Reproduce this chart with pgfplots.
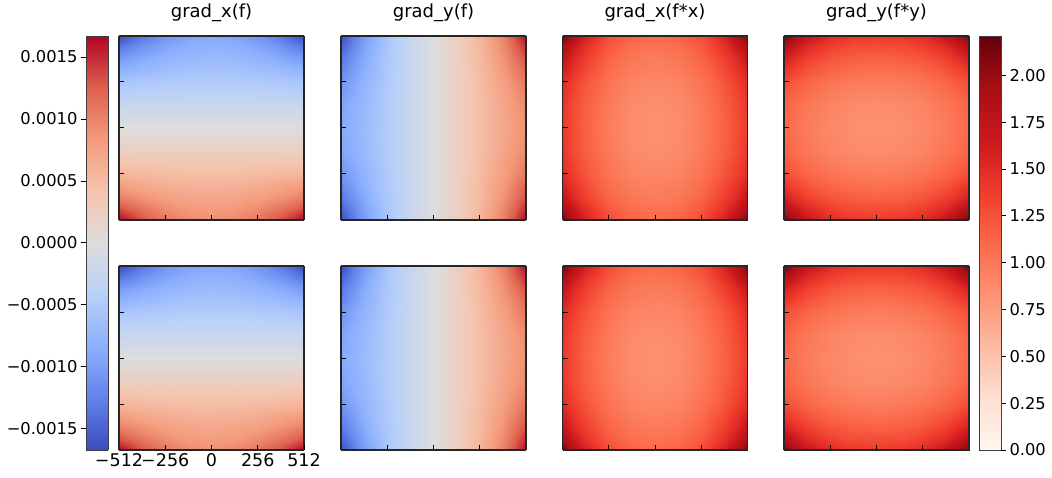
\documentclass[border=0pt]{standalone}
\usepackage{fontspec}
\setmainfont{DejaVu Sans}
\usepackage{pgfplots}
\usepackage{pgfplotstable}
\pgfplotsset{compat=1.18}
\pgfplotsset{
 colormap={coolwarm}{rgb255(0)=(59,76,192) rgb255(1)=(98,130,234) rgb255(2)=(141,176,254) rgb255(3)=(184,208,249) rgb255(4)=(221,221,221) rgb255(5)=(245,196,173) rgb255(6)=(244,154,123) rgb255(7)=(222,96,77) rgb255(8)=(180,4,38)},
 colormap={reds}{rgb255(0)=(255,245,240) rgb255(1)=(254,224,210) rgb255(2)=(252,187,161) rgb255(3)=(252,146,114) rgb255(4)=(251,106,74) rgb255(5)=(239,59,44) rgb255(6)=(203,24,29) rgb255(7)=(165,15,21) rgb255(8)=(103,0,13)},
}
% grad_x(f)
\pgfplotstableread{
x y z
-512 512 -0.00167
-448 512 -0.00149
-384 512 -0.00133
-256 512 -0.00109
-128 512 -0.00095
0 512 -0.00090
128 512 -0.00095
256 512 -0.00109
384 512 -0.00133
448 512 -0.00149
512 512 -0.00167
-512 448 -0.00132
-448 448 -0.00120
-384 448 -0.00109
-256 448 -0.00093
-128 448 -0.00083
0 448 -0.00080
128 448 -0.00083
256 448 -0.00093
384 448 -0.00109
448 448 -0.00120
512 448 -0.00132
-512 384 -0.00102
-448 384 -0.00095
-384 384 -0.00088
-256 384 -0.00078
-128 384 -0.00072
0 384 -0.00070
128 384 -0.00072
256 384 -0.00078
384 384 -0.00088
448 384 -0.00095
512 384 -0.00102
-512 256 -0.00057
-448 256 -0.00055
-384 256 -0.00053
-256 256 -0.00050
-128 256 -0.00048
0 256 -0.00048
128 256 -0.00048
256 256 -0.00050
384 256 -0.00053
448 256 -0.00055
512 256 -0.00057
-512 128 -0.00025
-448 128 -0.00024
-384 128 -0.00024
-256 128 -0.00024
-128 128 -0.00024
0 128 -0.00024
128 128 -0.00024
256 128 -0.00024
384 128 -0.00024
448 128 -0.00024
512 128 -0.00025
-512 0 0
-448 0 0
-384 0 0
-256 0 0
-128 0 0
0 0 0
128 0 0
256 0 0
384 0 0
448 0 0
512 0 0
-512 -128 0.00025
-448 -128 0.00024
-384 -128 0.00024
-256 -128 0.00024
-128 -128 0.00024
0 -128 0.00024
128 -128 0.00024
256 -128 0.00024
384 -128 0.00024
448 -128 0.00024
512 -128 0.00025
-512 -256 0.00057
-448 -256 0.00055
-384 -256 0.00053
-256 -256 0.00050
-128 -256 0.00048
0 -256 0.00048
128 -256 0.00048
256 -256 0.00050
384 -256 0.00053
448 -256 0.00055
512 -256 0.00057
-512 -384 0.00102
-448 -384 0.00095
-384 -384 0.00088
-256 -384 0.00078
-128 -384 0.00072
0 -384 0.00070
128 -384 0.00072
256 -384 0.00078
384 -384 0.00088
448 -384 0.00095
512 -384 0.00102
-512 -448 0.00132
-448 -448 0.00120
-384 -448 0.00109
-256 -448 0.00093
-128 -448 0.00083
0 -448 0.00080
128 -448 0.00083
256 -448 0.00093
384 -448 0.00109
448 -448 0.00120
512 -448 0.00132
-512 -512 0.00167
-448 -512 0.00149
-384 -512 0.00133
-256 -512 0.00109
-128 -512 0.00095
0 -512 0.00090
128 -512 0.00095
256 -512 0.00109
384 -512 0.00133
448 -512 0.00149
512 -512 0.00167
}\GX
% grad_y(f)
\pgfplotstableread{
x y z
-512 512 -0.00167
-448 512 -0.00132
-384 512 -0.00102
-256 512 -0.00057
-128 512 -0.00025
0 512 0
128 512 0.00025
256 512 0.00057
384 512 0.00102
448 512 0.00132
512 512 0.00167
-512 448 -0.00149
-448 448 -0.00120
-384 448 -0.00095
-256 448 -0.00055
-128 448 -0.00024
0 448 0
128 448 0.00024
256 448 0.00055
384 448 0.00095
448 448 0.00120
512 448 0.00149
-512 384 -0.00133
-448 384 -0.00109
-384 384 -0.00088
-256 384 -0.00053
-128 384 -0.00024
0 384 0
128 384 0.00024
256 384 0.00053
384 384 0.00088
448 384 0.00109
512 384 0.00133
-512 256 -0.00109
-448 256 -0.00093
-384 256 -0.00078
-256 256 -0.00050
-128 256 -0.00024
0 256 0
128 256 0.00024
256 256 0.00050
384 256 0.00078
448 256 0.00093
512 256 0.00109
-512 128 -0.00095
-448 128 -0.00083
-384 128 -0.00072
-256 128 -0.00048
-128 128 -0.00024
0 128 0
128 128 0.00024
256 128 0.00048
384 128 0.00072
448 128 0.00083
512 128 0.00095
-512 0 -0.00090
-448 0 -0.00080
-384 0 -0.00070
-256 0 -0.00048
-128 0 -0.00024
0 0 0
128 0 0.00024
256 0 0.00048
384 0 0.00070
448 0 0.00080
512 0 0.00090
-512 -128 -0.00095
-448 -128 -0.00083
-384 -128 -0.00072
-256 -128 -0.00048
-128 -128 -0.00024
0 -128 0
128 -128 0.00024
256 -128 0.00048
384 -128 0.00072
448 -128 0.00083
512 -128 0.00095
-512 -256 -0.00109
-448 -256 -0.00093
-384 -256 -0.00078
-256 -256 -0.00050
-128 -256 -0.00024
0 -256 0
128 -256 0.00024
256 -256 0.00050
384 -256 0.00078
448 -256 0.00093
512 -256 0.00109
-512 -384 -0.00133
-448 -384 -0.00109
-384 -384 -0.00088
-256 -384 -0.00053
-128 -384 -0.00024
0 -384 0
128 -384 0.00024
256 -384 0.00053
384 -384 0.00088
448 -384 0.00109
512 -384 0.00133
-512 -448 -0.00149
-448 -448 -0.00120
-384 -448 -0.00095
-256 -448 -0.00055
-128 -448 -0.00024
0 -448 0
128 -448 0.00024
256 -448 0.00055
384 -448 0.00095
448 -448 0.00120
512 -448 0.00149
-512 -512 -0.00167
-448 -512 -0.00132
-384 -512 -0.00102
-256 -512 -0.00057
-128 -512 -0.00025
0 -512 0
128 -512 0.00025
256 -512 0.00057
384 -512 0.00102
448 -512 0.00132
512 -512 0.00167
}\GY
% grad_x(f*x)
\pgfplotstableread{
x y z
-512 512 2.15
-448 512 1.82
-384 512 1.57
-256 512 1.27
-128 512 1.14
0 512 1.10
128 512 1.14
256 512 1.27
384 512 1.57
448 512 1.82
512 512 2.15
-512 448 1.89
-448 448 1.64
-384 448 1.45
-256 448 1.20
-128 448 1.07
0 448 1.04
128 448 1.07
256 448 1.20
384 448 1.45
448 448 1.64
512 448 1.89
-512 384 1.70
-448 384 1.51
-384 384 1.35
-256 384 1.13
-128 384 1.02
0 384 0.98
128 384 1.02
256 384 1.13
384 384 1.35
448 384 1.51
512 384 1.70
-512 256 1.50
-448 256 1.35
-384 256 1.23
-256 256 1.04
-128 256 0.93
0 256 0.90
128 256 0.93
256 256 1.04
384 256 1.23
448 256 1.35
512 256 1.50
-512 128 1.42
-448 128 1.28
-384 128 1.17
-256 128 0.99
-128 128 0.88
0 128 0.85
128 128 0.88
256 128 0.99
384 128 1.17
448 128 1.28
512 128 1.42
-512 0 1.40
-448 0 1.27
-384 0 1.15
-256 0 0.97
-128 0 0.87
0 0 0.83
128 0 0.87
256 0 0.97
384 0 1.15
448 0 1.27
512 0 1.40
-512 -128 1.42
-448 -128 1.28
-384 -128 1.17
-256 -128 0.99
-128 -128 0.88
0 -128 0.85
128 -128 0.88
256 -128 0.99
384 -128 1.17
448 -128 1.28
512 -128 1.42
-512 -256 1.50
-448 -256 1.35
-384 -256 1.23
-256 -256 1.04
-128 -256 0.93
0 -256 0.90
128 -256 0.93
256 -256 1.04
384 -256 1.23
448 -256 1.35
512 -256 1.50
-512 -384 1.70
-448 -384 1.51
-384 -384 1.35
-256 -384 1.13
-128 -384 1.02
0 -384 0.98
128 -384 1.02
256 -384 1.13
384 -384 1.35
448 -384 1.51
512 -384 1.70
-512 -448 1.89
-448 -448 1.64
-384 -448 1.45
-256 -448 1.20
-128 -448 1.07
0 -448 1.04
128 -448 1.07
256 -448 1.20
384 -448 1.45
448 -448 1.64
512 -448 1.89
-512 -512 2.15
-448 -512 1.82
-384 -512 1.57
-256 -512 1.27
-128 -512 1.14
0 -512 1.10
128 -512 1.14
256 -512 1.27
384 -512 1.57
448 -512 1.82
512 -512 2.15
}\FX
% grad_y(f*y)
\pgfplotstableread{
x y z
-512 512 2.15
-448 512 1.89
-384 512 1.70
-256 512 1.50
-128 512 1.42
0 512 1.40
128 512 1.42
256 512 1.50
384 512 1.70
448 512 1.89
512 512 2.15
-512 448 1.82
-448 448 1.64
-384 448 1.51
-256 448 1.35
-128 448 1.28
0 448 1.27
128 448 1.28
256 448 1.35
384 448 1.51
448 448 1.64
512 448 1.82
-512 384 1.57
-448 384 1.45
-384 384 1.35
-256 384 1.23
-128 384 1.17
0 384 1.15
128 384 1.17
256 384 1.23
384 384 1.35
448 384 1.45
512 384 1.57
-512 256 1.27
-448 256 1.20
-384 256 1.13
-256 256 1.04
-128 256 0.99
0 256 0.97
128 256 0.99
256 256 1.04
384 256 1.13
448 256 1.20
512 256 1.27
-512 128 1.14
-448 128 1.07
-384 128 1.02
-256 128 0.93
-128 128 0.88
0 128 0.87
128 128 0.88
256 128 0.93
384 128 1.02
448 128 1.07
512 128 1.14
-512 0 1.10
-448 0 1.04
-384 0 0.98
-256 0 0.90
-128 0 0.85
0 0 0.83
128 0 0.85
256 0 0.90
384 0 0.98
448 0 1.04
512 0 1.10
-512 -128 1.14
-448 -128 1.07
-384 -128 1.02
-256 -128 0.93
-128 -128 0.88
0 -128 0.87
128 -128 0.88
256 -128 0.93
384 -128 1.02
448 -128 1.07
512 -128 1.14
-512 -256 1.27
-448 -256 1.20
-384 -256 1.13
-256 -256 1.04
-128 -256 0.99
0 -256 0.97
128 -256 0.99
256 -256 1.04
384 -256 1.13
448 -256 1.20
512 -256 1.27
-512 -384 1.57
-448 -384 1.45
-384 -384 1.35
-256 -384 1.23
-128 -384 1.17
0 -384 1.15
128 -384 1.17
256 -384 1.23
384 -384 1.35
448 -384 1.45
512 -384 1.57
-512 -448 1.82
-448 -448 1.64
-384 -448 1.51
-256 -448 1.35
-128 -448 1.28
0 -448 1.27
128 -448 1.28
256 -448 1.35
384 -448 1.51
448 -448 1.64
512 -448 1.82
-512 -512 2.15
-448 -512 1.89
-384 -512 1.70
-256 -512 1.50
-128 -512 1.42
0 -512 1.40
128 -512 1.42
256 -512 1.50
384 -512 1.70
448 -512 1.89
512 -512 2.15
}\FY
\pgfplotsset{
 panel/.style={
  anchor=south west, scale only axis, width=185pt, height=184pt,
  view={0}{90}, xmin=-512, xmax=512, ymin=-512, ymax=512,
  xtick={-256,0,256}, ytick={-256,0,256}, ztick=\empty,
  xticklabels={}, yticklabels={},
  tick align=inside, xtick pos=left, ytick pos=left,
  major tick length=5pt,
  axis line style={line width=1.1pt, black!85},
  every tick/.style={black, line width=1pt},
  title style={at={(0.5,1)}, anchor=base, yshift=12pt, font=\fontsize{18}{22}\selectfont},
 },
 cool/.style={colormap name=coolwarm, point meta min=-0.00167, point meta max=0.00167},
 red/.style={colormap name=reds, point meta min=0, point meta max=2.21},
 cbar/.style={
  anchor=south west, scale only axis, width=22pt, height=414pt,
  view={0}{90}, xmin=0, xmax=1, xtick=\empty, ztick=\empty,
  scaled y ticks=false,
  tick align=outside, major tick length=5pt,
  axis line style={line width=0.9pt, black!75},
  every tick/.style={black, line width=1pt},
  yticklabel style={font=\fontsize{16.3}{19}\selectfont},
 },
}
\begin{document}
\begin{tikzpicture}
\useasboundingbox (0,0) rectangle (1052pt,477pt);
% top row
\begin{axis}[panel, cool, at={(119pt,257pt)}, title={grad\_x(f)}]
\addplot3[surf, shader=interp, mesh/cols=11] table {\GX};
\end{axis}
\begin{axis}[panel, cool, at={(341pt,257pt)}, title={grad\_y(f)}]
\addplot3[surf, shader=interp, mesh/cols=11] table {\GY};
\end{axis}
\begin{axis}[panel, red, at={(562.5pt,257pt)}, title={grad\_x(f*x)}]
\addplot3[surf, shader=interp, mesh/cols=11] table {\FX};
\end{axis}
\begin{axis}[panel, red, at={(784pt,257pt)}, title={grad\_y(f*y)}]
\addplot3[surf, shader=interp, mesh/cols=11] table {\FY};
\end{axis}
% bottom row
\begin{axis}[panel, cool, at={(119pt,27pt)},
  xtick={-512,-256,0,256,512}, xticklabels={−512,−256,0,256,512},
  xticklabel style={font=\fontsize{17.5}{21}\selectfont}]
\addplot3[surf, shader=interp, mesh/cols=11] table {\GX};
\end{axis}
\begin{axis}[panel, cool, at={(341pt,27pt)}]
\addplot3[surf, shader=interp, mesh/cols=11] table {\GY};
\end{axis}
\begin{axis}[panel, red, at={(562.5pt,27pt)}]
\addplot3[surf, shader=interp, mesh/cols=11] table {\FX};
\end{axis}
\begin{axis}[panel, red, at={(784pt,27pt)}]
\addplot3[surf, shader=interp, mesh/cols=11] table {\FY};
\end{axis}
% left colorbar
\begin{axis}[cbar, cool, at={(86pt,27pt)}, ymin=-0.00167, ymax=0.00167,
  ytick={-0.0015,-0.001,-0.0005,0,0.0005,0.001,0.0015},
  yticklabels={−0.0015,−0.0010,−0.0005,0.0000,0.0005,0.0010,0.0015},
  ytick pos=left]
\addplot3[surf, shader=interp, mesh/cols=2] coordinates {
(0,-0.00167,-0.00167) (1,-0.00167,-0.00167)
(0,-0.00125,-0.00125) (1,-0.00125,-0.00125)
(0,-0.00084,-0.00084) (1,-0.00084,-0.00084)
(0,-0.00042,-0.00042) (1,-0.00042,-0.00042)
(0,0,0) (1,0,0)
(0,0.00042,0.00042) (1,0.00042,0.00042)
(0,0.00084,0.00084) (1,0.00084,0.00084)
(0,0.00125,0.00125) (1,0.00125,0.00125)
(0,0.00167,0.00167) (1,0.00167,0.00167)};
\end{axis}
% right colorbar
\begin{axis}[cbar, red, at={(979pt,27pt)}, ymin=0, ymax=2.21,
  ytick={0,0.25,0.5,0.75,1,1.25,1.5,1.75,2},
  yticklabels={0.00,0.25,0.50,0.75,1.00,1.25,1.50,1.75,2.00},
  ytick pos=right]
\addplot3[surf, shader=interp, mesh/cols=2] coordinates {
(0,0,0) (1,0,0)
(0,0.28,0.28) (1,0.28,0.28)
(0,0.55,0.55) (1,0.55,0.55)
(0,0.83,0.83) (1,0.83,0.83)
(0,1.1,1.1) (1,1.1,1.1)
(0,1.38,1.38) (1,1.38,1.38)
(0,1.66,1.66) (1,1.66,1.66)
(0,1.93,1.93) (1,1.93,1.93)
(0,2.21,2.21) (1,2.21,2.21)};
\end{axis}
\end{tikzpicture}
\end{document}
